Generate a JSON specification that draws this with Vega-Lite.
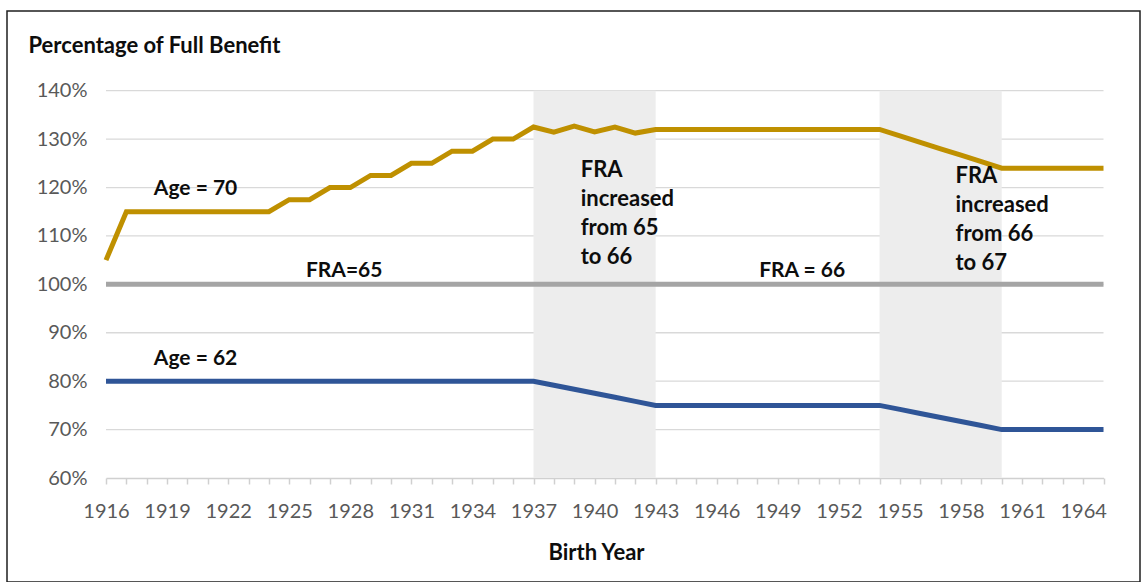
{
  "$schema": "https://vega.github.io/schema/vega-lite/v6.json",
  "width": 1133,
  "height": 571,
  "autosize": {"type": "none"},
  "padding": {"left": 7, "top": 11, "right": 8, "bottom": 0},
  "background": "white",
  "config": {
    "view": {"stroke": "#1f1f1f", "strokeWidth": 1.5},
    "font": "Lato"
  },
  "resolve": {"axis": {"x": "independent"}},
  "datasets": {
    "benefits": [
      {"year": 1916, "age70": 1.05, "age62": 0.80, "fra": 1},
      {"year": 1917, "age70": 1.15, "age62": 0.80, "fra": 1},
      {"year": 1918, "age70": 1.15, "age62": 0.80, "fra": 1},
      {"year": 1919, "age70": 1.15, "age62": 0.80, "fra": 1},
      {"year": 1920, "age70": 1.15, "age62": 0.80, "fra": 1},
      {"year": 1921, "age70": 1.15, "age62": 0.80, "fra": 1},
      {"year": 1922, "age70": 1.15, "age62": 0.80, "fra": 1},
      {"year": 1923, "age70": 1.15, "age62": 0.80, "fra": 1},
      {"year": 1924, "age70": 1.15, "age62": 0.80, "fra": 1},
      {"year": 1925, "age70": 1.175, "age62": 0.80, "fra": 1},
      {"year": 1926, "age70": 1.175, "age62": 0.80, "fra": 1},
      {"year": 1927, "age70": 1.20, "age62": 0.80, "fra": 1},
      {"year": 1928, "age70": 1.20, "age62": 0.80, "fra": 1},
      {"year": 1929, "age70": 1.225, "age62": 0.80, "fra": 1},
      {"year": 1930, "age70": 1.225, "age62": 0.80, "fra": 1},
      {"year": 1931, "age70": 1.25, "age62": 0.80, "fra": 1},
      {"year": 1932, "age70": 1.25, "age62": 0.80, "fra": 1},
      {"year": 1933, "age70": 1.275, "age62": 0.80, "fra": 1},
      {"year": 1934, "age70": 1.275, "age62": 0.80, "fra": 1},
      {"year": 1935, "age70": 1.30, "age62": 0.80, "fra": 1},
      {"year": 1936, "age70": 1.30, "age62": 0.80, "fra": 1},
      {"year": 1937, "age70": 1.325, "age62": 0.80, "fra": 1},
      {"year": 1938, "age70": 1.3142, "age62": 0.7917, "fra": 1},
      {"year": 1939, "age70": 1.3267, "age62": 0.7833, "fra": 1},
      {"year": 1940, "age70": 1.315, "age62": 0.775, "fra": 1},
      {"year": 1941, "age70": 1.325, "age62": 0.7667, "fra": 1},
      {"year": 1942, "age70": 1.3125, "age62": 0.7583, "fra": 1},
      {"year": 1943, "age70": 1.32, "age62": 0.75, "fra": 1},
      {"year": 1944, "age70": 1.32, "age62": 0.75, "fra": 1},
      {"year": 1945, "age70": 1.32, "age62": 0.75, "fra": 1},
      {"year": 1946, "age70": 1.32, "age62": 0.75, "fra": 1},
      {"year": 1947, "age70": 1.32, "age62": 0.75, "fra": 1},
      {"year": 1948, "age70": 1.32, "age62": 0.75, "fra": 1},
      {"year": 1949, "age70": 1.32, "age62": 0.75, "fra": 1},
      {"year": 1950, "age70": 1.32, "age62": 0.75, "fra": 1},
      {"year": 1951, "age70": 1.32, "age62": 0.75, "fra": 1},
      {"year": 1952, "age70": 1.32, "age62": 0.75, "fra": 1},
      {"year": 1953, "age70": 1.32, "age62": 0.75, "fra": 1},
      {"year": 1954, "age70": 1.32, "age62": 0.75, "fra": 1},
      {"year": 1955, "age70": 1.3067, "age62": 0.7417, "fra": 1},
      {"year": 1956, "age70": 1.2933, "age62": 0.7333, "fra": 1},
      {"year": 1957, "age70": 1.28, "age62": 0.725, "fra": 1},
      {"year": 1958, "age70": 1.2667, "age62": 0.7167, "fra": 1},
      {"year": 1959, "age70": 1.2533, "age62": 0.7083, "fra": 1},
      {"year": 1960, "age70": 1.24, "age62": 0.70, "fra": 1},
      {"year": 1961, "age70": 1.24, "age62": 0.70, "fra": 1},
      {"year": 1962, "age70": 1.24, "age62": 0.70, "fra": 1},
      {"year": 1963, "age70": 1.24, "age62": 0.70, "fra": 1},
      {"year": 1964, "age70": 1.24, "age62": 0.70, "fra": 1},
      {"year": 1965, "age70": 1.24, "age62": 0.70, "fra": 1}
    ],
    "bands": [
      {"start": 1937, "end": 1943},
      {"start": 1954, "end": 1960}
    ],
    "grid": [
      {"v": 0.7}, {"v": 0.8}, {"v": 0.9}, {"v": 1.0},
      {"v": 1.1}, {"v": 1.2}, {"v": 1.3}, {"v": 1.4}
    ],
    "notes": [
      {"year": 1920.4, "value": 1.1845, "text": "Age = 70", "kind": "c"},
      {"year": 1927.7, "value": 1.0158, "text": "FRA=65", "kind": "c"},
      {"year": 1920.4, "value": 0.8334, "text": "Age = 62", "kind": "c"},
      {"year": 1950.2, "value": 1.0158, "text": "FRA = 66", "kind": "c"},
      {"year": 1939.32, "value": 1.2224, "text": "FRA\nincreased\nfrom 65\nto 66", "kind": "l"},
      {"year": 1957.73, "value": 1.2087, "text": "FRA\nincreased\nfrom 66\nto 67", "kind": "l"}
    ]
  },
  "layer": [
    {
      "data": {"name": "benefits"},
      "transform": [{"fold": ["fra", "age70", "age62"], "as": ["series", "value"]}, {"filter": "datum.series === 'none'"}],
      "mark": {"type": "line", "strokeWidth": 0},
      "encoding": {
        "x": {
          "field": "year",
          "type": "quantitative",
          "scale": {"domain": [1916, 1965], "range": [99, 1096.5], "nice": false, "zero": false},
          "axis": {
            "orient": "bottom",
            "title": null,
            "offset": -104,
            "values": [1916,1917,1918,1919,1920,1921,1922,1923,1924,1925,1926,1927,1928,1929,1930,1931,1932,1933,1934,1935,1936,1937,1938,1939,1940,1941,1942,1943,1944,1945,1946,1947,1948,1949,1950,1951,1952,1953,1954,1955,1956,1957,1958,1959,1960,1961,1962,1963,1964,1965],
            "labels": false,
            "tickSize": 6,
            "tickColor": "#D0D0D0",
            "tickWidth": 1.5,
            "domainColor": "#D0D0D0",
            "domainWidth": 1.5,
            "grid": false
          }
        },
        "y": {
          "field": "value",
          "type": "quantitative",
          "scale": {"domain": [0.6, 1.4], "range": [467, 79.7], "nice": false, "zero": false},
          "axis": {
            "title": "Percentage of Full Benefit",
            "titleFont": "Lato",
            "titleFontSize": 22,
            "titleFontWeight": "bold",
            "titleColor": "#0d0d0d",
            "titleAngle": 0,
            "titleAlign": "left",
            "titleBaseline": "alphabetic",
            "titleX": -78,
            "titleY": 41,
            "offset": -99,
            "values": [0.6, 0.7, 0.8, 0.9, 1.0, 1.1, 1.2, 1.3, 1.4],
            "format": ".0%",
            "labelFont": "Lato",
            "labelFontSize": 20,
            "labelColor": "#595959",
            "labelPadding": 19,
            "ticks": false,
            "tickSize": 0,
            "domain": false,
            "grid": false,
            "labelOverlap": false,
            "labelBound": false,
            "labelFlush": false
          }
        }
      }
    },
    {
      "data": {"name": "benefits"},
      "transform": [{"fold": ["fra", "age70", "age62"], "as": ["series", "value"]}, {"filter": "datum.series === 'none'"}],
      "mark": {"type": "line", "strokeWidth": 0},
      "encoding": {
        "x": {
          "field": "year",
          "type": "quantitative",
          "axis": {
            "orient": "bottom",
            "title": "Birth Year",
            "titleFont": "Lato",
            "titleFontSize": 22,
            "titleFontWeight": "bold",
            "titleColor": "#0d0d0d",
            "titleX": 589,
            "titleY": 81,
            "titleBaseline": "alphabetic",
            "offset": -104,
            "values": [1916,1919,1922,1925,1928,1931,1934,1937,1940,1943,1946,1949,1952,1955,1958,1961,1964],
            "format": "d",
            "labelOverlap": false,
            "labelBound": false,
            "labelFlush": false,
            "labelFont": "Lato",
            "labelFontSize": 20,
            "labelColor": "#595959",
            "labelBaseline": "alphabetic",
            "labelPadding": 39,
            "ticks": false,
            "tickSize": 0,
            "domain": false,
            "grid": false
          }
        },
        "y": {"field": "value", "type": "quantitative"}
      }
    },
    {
      "data": {"name": "grid"},
      "mark": {"type": "rule", "color": "#D9D9D9", "strokeWidth": 1.3},
      "encoding": {
        "y": {"field": "v", "type": "quantitative"},
        "x": {"datum": 1916, "type": "quantitative", "axis": null},
        "x2": {"datum": 1965}
      }
    },
    {
      "data": {"name": "bands"},
      "mark": {"type": "rect", "color": "#EDEDED"},
      "encoding": {
        "x": {"field": "start", "type": "quantitative", "axis": null},
        "x2": {"field": "end"},
        "y": {"datum": 1.4, "type": "quantitative"},
        "y2": {"datum": 0.6}
      }
    },
    {
      "data": {"name": "benefits"},
      "transform": [{"fold": ["fra", "age70", "age62"], "as": ["series", "value"]}],
      "mark": {"type": "line", "strokeWidth": 5, "strokeJoin": "miter", "strokeCap": "butt"},
      "encoding": {
        "x": {"field": "year", "type": "quantitative", "axis": null},
        "y": {"field": "value", "type": "quantitative"},
        "color": {
          "field": "series",
          "type": "nominal",
          "scale": {"domain": ["fra", "age70", "age62"], "range": ["#A5A5A5", "#BF9000", "#2F5597"]},
          "legend": null
        },
        "order": {"field": "year", "type": "quantitative"}
      }
    },
    {
      "data": {"name": "notes"},
      "transform": [{"filter": "datum.kind === 'c'"}],
      "mark": {"type": "text", "font": "Lato", "fontSize": 21, "fontWeight": "bold", "color": "#0d0d0d", "align": "center", "baseline": "alphabetic"},
      "encoding": {
        "x": {"field": "year", "type": "quantitative", "axis": null},
        "y": {"field": "value", "type": "quantitative"},
        "text": {"field": "text"}
      }
    },
    {
      "data": {"name": "notes"},
      "transform": [{"filter": "datum.kind === 'l'"}],
      "mark": {"type": "text", "font": "Lato", "fontSize": 22, "fontWeight": "bold", "color": "#0d0d0d", "align": "left", "baseline": "alphabetic", "lineBreak": "\n", "lineHeight": 29},
      "encoding": {
        "x": {"field": "year", "type": "quantitative", "axis": null},
        "y": {"field": "value", "type": "quantitative"},
        "text": {"field": "text"}
      }
    }
  ]
}
